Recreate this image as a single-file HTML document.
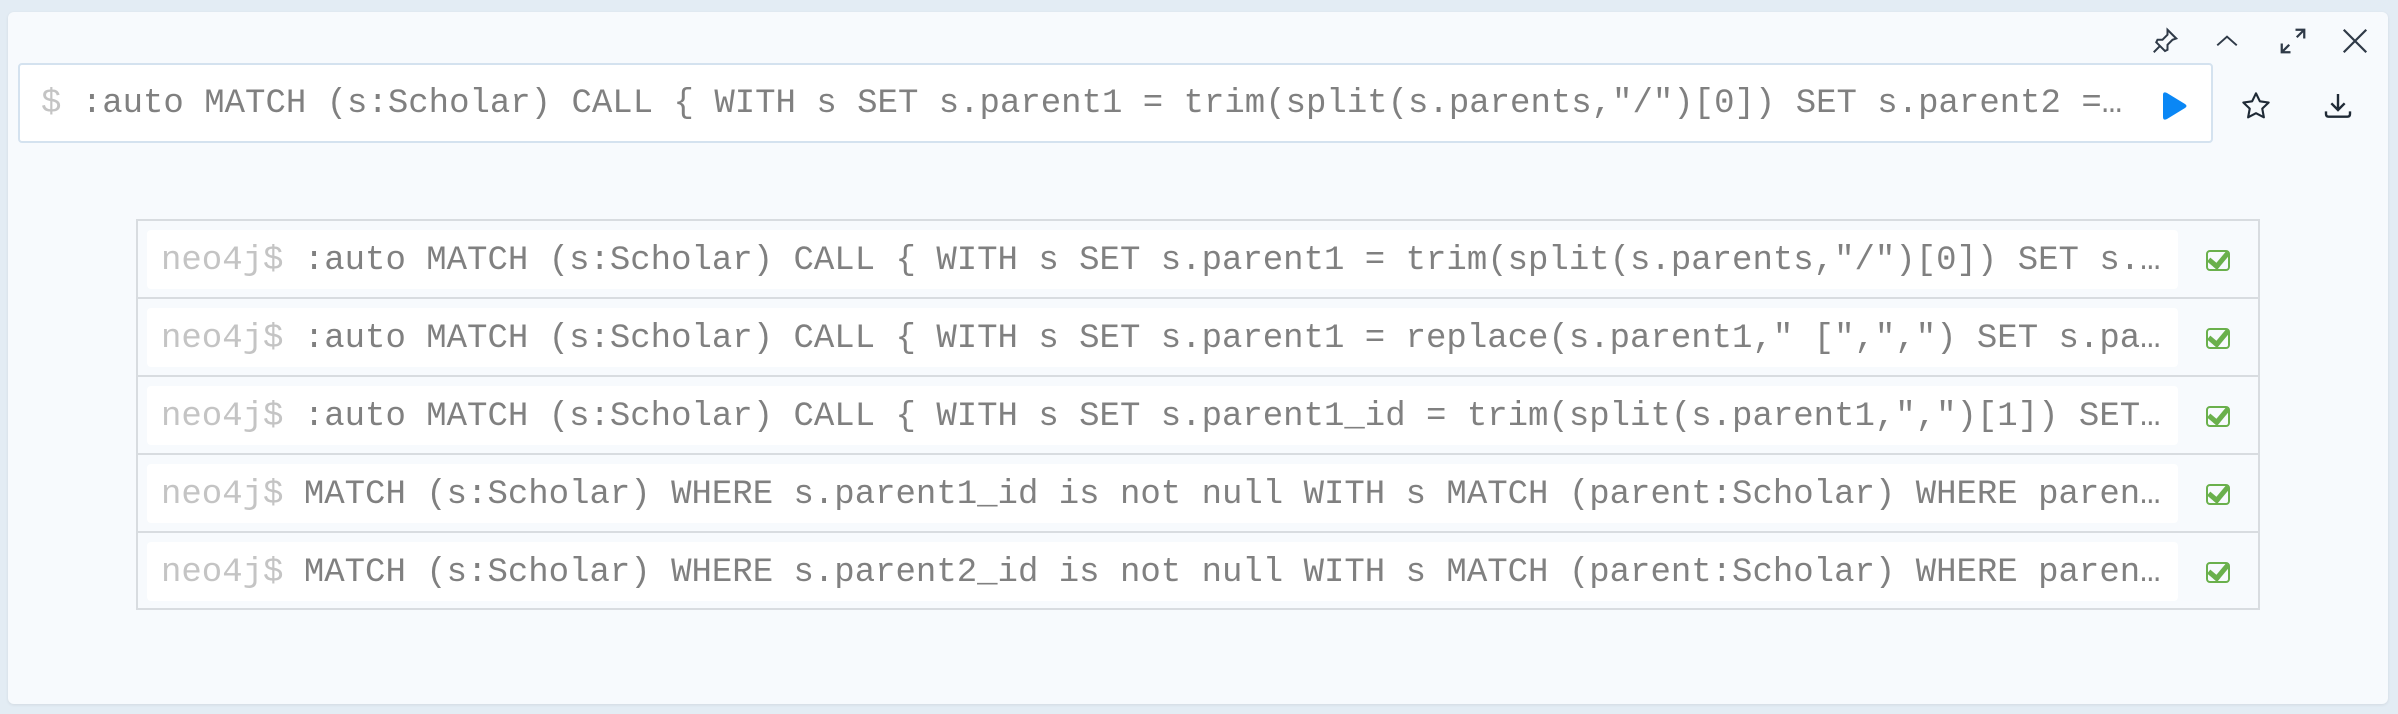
<!DOCTYPE html>
<html><head><meta charset="utf-8"><style>
*{margin:0;padding:0;box-sizing:border-box}
body{width:2398px;height:714px;background:#e3ecf4;position:relative;overflow:hidden;font-family:"Liberation Mono",monospace}
.card{position:absolute;left:8px;top:12px;width:2380px;height:692px;background:#f7fafd;border-radius:6px;box-shadow:0 1px 3px rgba(0,0,0,.08)}
.ed{position:absolute;left:18px;top:63px;width:2195px;height:80px;background:#fff;border:2px solid #d4e2ef;border-radius:4px}
.t{position:absolute;font-size:34px;color:#808080;white-space:pre;line-height:40px}
.p{color:#c4c4c4}
.tbl{position:absolute;left:136px;top:219px;width:2124px;height:391px;border:2px solid #d8dce0;background:#f7fafd}
.row{position:absolute;left:0;width:2120px;height:78px;border-bottom:2px solid #d8dce0}
.wb{position:absolute;left:9px;top:9px;width:2031px;height:59px;background:#fff;border-radius:4px}
.ck{position:absolute;left:2068px;top:29px;width:24px;height:21px;border:2.5px solid #6ab04c;border-radius:4px}
svg{position:absolute}
</style></head><body>
<div class="card"></div>
<!-- top icons -->
<svg style="left:2150px;top:26px" width="30" height="30" viewBox="0 0 24 24" fill="none" stroke="#2f3a48" stroke-width="1.6"><path d="M14 3l7 7-3 1-4 4 0 4-2 1-7-7 1-2 4 0 4-4z M3 21l5-5"/></svg>
<svg style="left:2212px;top:28px" width="30" height="26" viewBox="0 0 24 24" fill="none" stroke="#2f3a48" stroke-width="1.8"><path d="M3 16l9-8 9 8"/></svg>
<svg style="left:2278px;top:26px" width="30" height="30" viewBox="0 0 24 24" fill="none" stroke="#2f3a48" stroke-width="1.8"><path d="M14 3h7v7M21 3l-6 6M10 21H3v-7M3 21l6-6"/></svg>
<svg style="left:2340px;top:26px" width="30" height="30" viewBox="0 0 24 24" fill="none" stroke="#2f3a48" stroke-width="1.8"><path d="M3 3l18 18M21 3L3 21"/></svg>
<div class="ed"></div>
<div class="t" style="left:41px;top:84px"><span class="p">$</span> :auto MATCH (s:Scholar) CALL { WITH s SET s.parent1 = trim(split(s.parents,"/")[0]) SET s.parent2 =…</div>
<svg style="left:2160px;top:91px" width="28" height="30" viewBox="0 0 28 30"><path d="M3 4Q3 0 7 2L25 13Q28 15 25 17L7 28Q3 30 3 26Z" fill="#0a87f5"/></svg>
<svg style="left:2240px;top:90px" width="32" height="32" viewBox="0 0 24 24" fill="none" stroke="#1f2a36" stroke-width="1.6" stroke-linejoin="round"><path d="M12 2.5l2.9 6 6.6.9-4.8 4.6 1.2 6.5L12 17.4l-5.9 3.1 1.2-6.5L2.5 9.4l6.6-.9z"/></svg>
<svg style="left:2322px;top:90px" width="32" height="32" viewBox="0 0 24 24" fill="none" stroke="#1f2a36" stroke-width="1.8"><path d="M12 3v11M7 10l5 5 5-5M3 16v2q0 2 2 2h14q2 0 2-2v-2"/></svg>
<div class="tbl">
<div class="row" style="top:0"><div class="wb"></div><div class="t" style="left:23px;top:20px"><span class="p">neo4j$</span> :auto MATCH (s:Scholar) CALL { WITH s SET s.parent1 = trim(split(s.parents,"/")[0]) SET s.…</div><div class="ck"></div></div>
<div class="row" style="top:78px"><div class="wb"></div><div class="t" style="left:23px;top:20px"><span class="p">neo4j$</span> :auto MATCH (s:Scholar) CALL { WITH s SET s.parent1 = replace(s.parent1," [",",") SET s.pa…</div><div class="ck"></div></div>
<div class="row" style="top:156px"><div class="wb"></div><div class="t" style="left:23px;top:20px"><span class="p">neo4j$</span> :auto MATCH (s:Scholar) CALL { WITH s SET s.parent1_id = trim(split(s.parent1,",")[1]) SET…</div><div class="ck"></div></div>
<div class="row" style="top:234px"><div class="wb"></div><div class="t" style="left:23px;top:20px"><span class="p">neo4j$</span> MATCH (s:Scholar) WHERE s.parent1_id is not null WITH s MATCH (parent:Scholar) WHERE paren…</div><div class="ck"></div></div>
<div class="row" style="top:312px;border-bottom:none"><div class="wb"></div><div class="t" style="left:23px;top:20px"><span class="p">neo4j$</span> MATCH (s:Scholar) WHERE s.parent2_id is not null WITH s MATCH (parent:Scholar) WHERE paren…</div><div class="ck"></div></div>
</div>
<svg width="0" height="0"></svg>
<script></script>
<style>.ck::after{content:"";position:absolute;left:4px;top:-4px;width:8px;height:15px;border-right:5px solid #6ab04c;border-bottom:5px solid #6ab04c;transform:rotate(40deg);background:transparent}</style>
</body></html>
